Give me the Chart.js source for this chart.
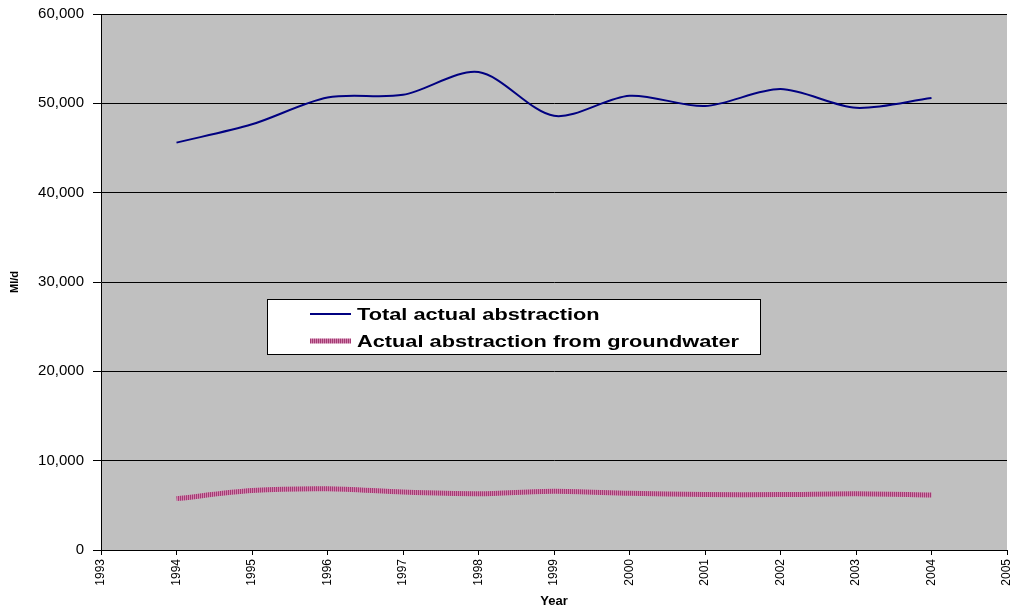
<!DOCTYPE html>
<html>
<head>
<meta charset="utf-8">
<script src="https://cdn.jsdelivr.net/npm/chart.js@4.4.1/dist/chart.umd.min.js"></script>
<style>
  html, body { margin: 0; padding: 0; background: #ffffff; }
  #wrap { width: 1012px; height: 609px; position: relative; }
</style>
</head>
<body>
<div id="wrap"><canvas id="chart" width="1012" height="609"></canvas></div>
<script>
// Yearly abstraction, Ml/d
const years = [1994, 1995, 1996, 1997, 1998, 1999, 2000, 2001, 2002, 2003, 2004];
const totalAbstraction = [45600, 47650, 50650, 50950, 53500, 48600, 50850, 49700, 51600, 49500, 50600];
const groundwaterAbstraction = [5750, 6650, 6860, 6480, 6300, 6580, 6340, 6200, 6200, 6300, 6160];
const yearTicks = [1993, 1994, 1995, 1996, 1997, 1998, 1999, 2000, 2001, 2002, 2003, 2004, 2005];
const valueTicks = [0, 10000, 20000, 30000, 40000, 50000, 60000];
const seriesNames = ['Total actual abstraction', 'Actual abstraction from groundwater'];

const FONT = '"Liberation Sans", Arial, sans-serif';

// striped pink stroke for the groundwater series
function stripePattern() {
  const c = document.createElement('canvas');
  c.width = 2; c.height = 1;
  const g = c.getContext('2d');
  g.fillStyle = '#a33a73'; g.fillRect(0, 0, 1, 1);
  g.fillStyle = '#d283ad'; g.fillRect(1, 0, 1, 1);
  return g.createPattern(c, 'repeat');
}
const pinkStripes = stripePattern();

const plotBackground = {
  id: 'plotBackground',
  beforeDraw(chart) {
    const { ctx, chartArea: a } = chart;
    ctx.save();
    ctx.fillStyle = '#c0c0c0';
    ctx.fillRect(a.left, a.top, a.right - a.left, a.bottom - a.top);
    ctx.restore();
  }
};

// boxed legend sitting inside the plot area
const boxedLegend = {
  id: 'boxedLegend',
  afterDatasetsDraw(chart) {
    const { ctx, chartArea: a } = chart;
    const x0 = a.left + 166, y0 = a.top + 285, w = 493, h = 55;
    ctx.save();
    ctx.fillStyle = '#ffffff';
    ctx.fillRect(x0, y0, w, h);
    ctx.strokeStyle = '#000000';
    ctx.lineWidth = 1;
    ctx.strokeRect(x0 + 0.5, y0 + 0.5, w, h);
    chart.data.datasets.forEach((ds, i) => {
      const cy = y0 + 15 + i * 27;
      ctx.beginPath();
      ctx.strokeStyle = ds.borderColor;
      ctx.lineWidth = ds.borderWidth;
      ctx.moveTo(x0 + 43, cy);
      ctx.lineTo(x0 + 84, cy);
      ctx.stroke();
      ctx.save();
      ctx.translate(x0 + 90, cy);
      ctx.scale(1.28, 1);
      ctx.fillStyle = '#000000';
      ctx.font = 'bold 17px ' + FONT;
      ctx.textBaseline = 'middle';
      ctx.fillText(ds.label, 0, 1);
      ctx.restore();
    });
    ctx.restore();
  }
};

const ctx = document.getElementById('chart').getContext('2d');
new Chart(ctx, {
  type: 'line',
  data: {
    datasets: [
      {
        label: seriesNames[0],
        data: years.map((y, i) => ({ x: y, y: totalAbstraction[i] })),
        borderColor: '#000080',
        borderWidth: 2,
        pointRadius: 0,
        tension: 0.3,
        fill: false
      },
      {
        label: seriesNames[1],
        data: years.map((y, i) => ({ x: y, y: groundwaterAbstraction[i] })),
        borderColor: pinkStripes,
        borderWidth: 5,
        pointRadius: 0,
        tension: 0.3,
        fill: false
      }
    ]
  },
  options: {
    responsive: false,
    animation: false,
    layout: { padding: { top: 14, right: 5, left: 0, bottom: 0 } },
    plugins: {
      legend: { display: false },
      tooltip: { enabled: false }
    },
    scales: {
      x: {
        type: 'linear',
        min: yearTicks[0],
        max: yearTicks[yearTicks.length - 1],
        afterBuildTicks(scale) { scale.ticks = yearTicks.map(v => ({ value: v })); },
        afterFit(scale) {
          scale.height = 59;
          scale.paddingLeft = 0;
          scale.paddingRight = 0;
        },
        grid: { drawOnChartArea: false, drawTicks: true, tickLength: 5, color: '#000000', tickColor: '#000000' },
        border: { display: true, color: '#000000', width: 1 },
        ticks: {
          minRotation: 90, maxRotation: 90, autoSkip: false, padding: 4,
          color: '#000000',
          font: { family: FONT, size: 12 },
          callback: v => String(v)
        },
        title: {
          display: true, text: 'Year', color: '#000000',
          font: { family: FONT, size: 13, weight: 'bold' },
          padding: { top: 0, bottom: 0 }
        }
      },
      y: {
        min: 0, max: 60000,
        afterBuildTicks(scale) { scale.ticks = valueTicks.map(v => ({ value: v })); },
        afterFit(scale) {
          scale.width = 101;
          scale.paddingTop = 0;
          scale.paddingBottom = 0;
        },
        grid: { drawOnChartArea: true, drawTicks: true, tickLength: 8, color: '#000000', tickColor: '#000000', lineWidth: 1 },
        border: { display: true, color: '#000000', width: 1 },
        ticks: {
          padding: 9, color: '#000000',
          font: { family: FONT, size: 15 },
          callback: v => v.toLocaleString('en-US')
        },
        title: {
          display: true, text: 'Ml/d', color: '#000000',
          font: { family: FONT, size: 11, weight: 'bold' },
          padding: { top: 8, bottom: 0 }
        }
      }
    }
  },
  plugins: [plotBackground, boxedLegend]
});
</script>
</body>
</html>
